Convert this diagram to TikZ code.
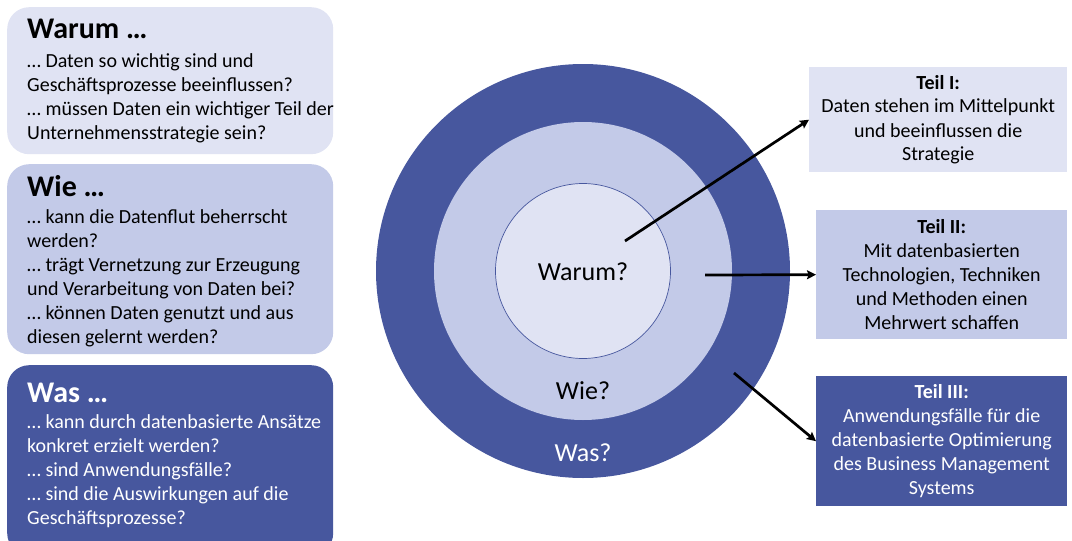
\documentclass[tikz,border=0pt]{standalone}
\usepackage{fontspec}
\setmainfont{Carlito}
\usetikzlibrary{arrows.meta,calc}
\definecolor{cLight}{HTML}{E0E3F3}
\definecolor{cMid}{HTML}{C3CAE8}
\definecolor{cDark}{HTML}{47579E}
\begin{document}
\begin{tikzpicture}[x=1pt,y=-1pt,
 lbox/.style={draw=none, rounded corners=22pt, anchor=north west, inner sep=0, minimum width=326pt},
 rbox/.style={draw=none, anchor=north west, inner sep=0, align=center, font=\fontsize{20}{24}\selectfont},
 head/.style={anchor=base west, inner sep=0, font=\fontsize{30}{32}\selectfont\bfseries},
 body/.style={anchor=base west, inner sep=0, align=left, font=\fontsize{20}{24}\selectfont},
 clabel/.style={anchor=base, inner sep=0, font=\fontsize{26}{30}\selectfont},
 conn/.style={line width=2.7pt, -{Stealth[length=9pt,width=9pt,inset=1.5pt]}}
]
\useasboundingbox (0,0) rectangle (1072,541);
% left boxes
\node[lbox, fill=cLight, minimum height=147pt] (b1) at (7,7) {};
\node[lbox, fill=cMid, minimum height=190pt] (b2) at (7,164) {};
\node[lbox, fill=cDark, minimum height=190pt] (b3) at (7,365) {};
\node[head] (h1) at (27,38) {Warum …};
\node[body] (t1) at (27,139) {… Daten so wichtig sind und\\Geschäftsprozesse beeinflussen?\\… müssen Daten ein wichtiger Teil der\\Unternehmensstrategie sein?};
\node[head] (h2) at (27,196) {Wie …};
\node[body] (t2) at (27,343) {… kann die Datenflut beherrscht\\werden?\\… trägt Vernetzung zur Erzeugung\\und Verarbeitung von Daten bei?\\… können Daten genutzt und aus\\diesen gelernt werden?};
\node[head, text=white] (h3) at (27,402) {Was …};
\node[body, text=white] (t3) at (27,524) {… kann durch datenbasierte Ansätze\\konkret erzielt werden?\\… sind Anwendungsfälle?\\… sind die Auswirkungen auf die\\Geschäftsprozesse?};
% circles
\node[circle, fill=cDark, minimum size=414pt, inner sep=0] (c3) at (583,271) {};
\node[circle, fill=cMid, minimum size=298pt, inner sep=0] (c2) at (583,271) {};
\node[circle, fill=cLight, draw=cDark, line width=0.7pt, minimum size=175pt, inner sep=0] (c1) at (583,271) {};
\node[clabel] (l1) at (583,280) {Warum?};
\node[clabel] (l2) at (583,399) {Wie?};
\node[clabel, text=white] (l3) at (583,461) {Was?};
% right boxes
\node[rbox, fill=cLight, minimum width=258pt, minimum height=105pt] (r1) at (809,67) {\textbf{Teil I:}\\Daten stehen im Mittelpunkt\\und beeinflussen die\\Strategie};
\node[rbox, fill=cMid, minimum width=251pt, minimum height=129pt] (r2) at (816,210) {\textbf{Teil II:}\\Mit datenbasierten\\Technologien, Techniken\\und Methoden einen\\Mehrwert schaffen};
\node[rbox, fill=cDark, text=white, minimum width=251pt, minimum height=130pt] (r3) at (816,376) {\textbf{Teil III:}\\Anwendungsfälle für die\\datenbasierte Optimierung\\des Business Management\\Systems};
% connectors
\coordinate (s1) at (625,241);
\coordinate (s2) at (705,275);
\coordinate (s3) at (734,373);
\draw[conn] (s1) -- (r1.west);
\draw[conn] (s2) -- (r2.west);
\draw[conn] (s3) -- (r3.west);
\end{tikzpicture}
\end{document}
